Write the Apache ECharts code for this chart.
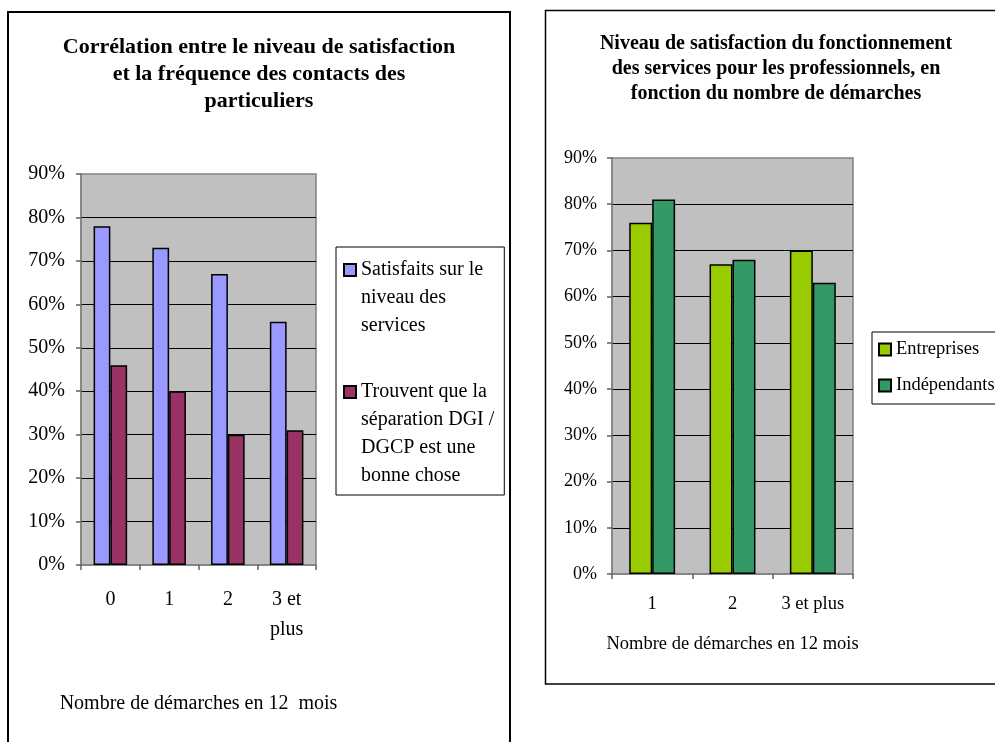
<!DOCTYPE html>
<html>
<head>
<meta charset="utf-8">
<script src="https://cdn.jsdelivr.net/npm/echarts@6/dist/echarts.min.js"></script>
<style>
  html, body { margin: 0; padding: 0; background: #fff; }
  #chart { width: 995px; height: 742px; }
</style>
</head>
<body>
<div id="chart"></div>
<script>
// Particuliers: satisfaction by number of contacts in 12 months
const contactCategories = ['0', '1', '2', '3 et\nplus'];
const satisfaitsServices = [78, 73, 67, 56];
const separationBonneChose = [46, 40, 30, 31];

// Professionnels: satisfaction by number of procedures
const demarchesCategories = ['1', '2', '3 et plus'];
const entreprises = [76, 67, 70];
const independants = [81, 68, 63];

// Percent axis range shared by both charts
const pctMin = 0;
const pctMax = 90;
const pctStep = 10;

const serif = 'Liberation Serif, Times New Roman, serif';
const nameSatisfaits = 'Satisfaits sur le\nniveau des\nservices';
const nameSeparation = 'Trouvent que la\nséparation DGI /\nDGCP est une\nbonne chose';
const LEFT_LH = 28;
const legendRich = { t: { fontFamily: serif, fontSize: 20, lineHeight: LEFT_LH, color: '#000' } };

// Each wrapped legend label keeps its swatch beside the first line:
// a negative bottom padding shrinks the block that gets centred on the icon.
function wrappedLegendItem(name) {
  const lines = name.split('\n').length;
  return {
    name,
    textStyle: { rich: legendRich, padding: [0, 0, -(lines - 1) * LEFT_LH, 0] }
  };
}

function valueAxis(gridIndex, fontSize, margin) {
  return {
    type: 'value', gridIndex, min: pctMin, max: pctMax, interval: pctStep,
    axisLine: { show: true, lineStyle: { color: '#808080', width: 1.5 } },
    axisTick: { show: true, length: 5, lineStyle: { color: '#606060', width: 1.5 } },
    axisLabel: { formatter: '{value}%', color: '#000', fontFamily: serif, fontSize, margin },
    splitLine: { show: true, showMinLine: false, showMaxLine: false, lineStyle: { color: '#000', width: 1 } }
  };
}

function categoryAxis(gridIndex, data, fontSize, lineHeight, margin, name, nameSize, nameGap) {
  return {
    type: 'category', gridIndex, data,
    axisLine: { show: true, lineStyle: { color: '#808080', width: 1.5 } },
    axisTick: { show: true, length: 5, alignWithLabel: false, lineStyle: { color: '#606060', width: 1.5 } },
    axisLabel: { color: '#000', fontFamily: serif, fontSize, lineHeight, margin, interval: 0 },
    name, nameLocation: 'middle', nameGap,
    nameTextStyle: { color: '#000', fontFamily: serif, fontSize: nameSize, lineHeight: 24 }
  };
}

function barSeries(name, data, color, axisIndex) {
  return {
    type: 'bar', name, data, xAxisIndex: axisIndex, yAxisIndex: axisIndex,
    barGap: '0%', barCategoryGap: '42.86%',
    itemStyle: { color, borderColor: '#000', borderWidth: 1.5 },
    emphasis: { disabled: true }
  };
}

const chart = echarts.init(document.getElementById('chart'), null, { renderer: 'canvas' });

chart.setOption({
  animation: false,
  backgroundColor: '#fff',
  title: [
    {
      text: 'Corrélation entre le niveau de satisfaction\net la fréquence des contacts des\nparticuliers',
      left: 259, top: 34, padding: 0, textAlign: 'center',
      textStyle: { fontFamily: serif, fontWeight: 'bold', fontSize: 22, lineHeight: 27, color: '#000' }
    },
    {
      text: 'Niveau de satisfaction du fonctionnement\ndes services pour les professionnels, en\nfonction du nombre de démarches',
      left: 776, top: 31, padding: 0, textAlign: 'center',
      textStyle: { fontFamily: serif, fontWeight: 'bold', fontSize: 20, lineHeight: 25, color: '#000' }
    }
  ],
  legend: [
    {
      orient: 'vertical', left: 336, top: 247,
      padding: [9, 10, 9, 7], itemGap: 42,
      itemWidth: 12, itemHeight: 12, icon: 'rect',
      borderColor: '#000', borderWidth: 1,
      selectedMode: false,
      formatter: (name) => name.split('\n').map((s) => '{t|' + s + '}').join('\n'),
      textStyle: { fontFamily: serif, fontSize: 20, lineHeight: LEFT_LH, color: '#000', rich: legendRich },
      data: [wrappedLegendItem(nameSatisfaits), wrappedLegendItem(nameSeparation)]
    },
    {
      orient: 'vertical', left: 872, top: 332,
      padding: [8, 10, 9, 6], itemGap: 17,
      itemWidth: 12, itemHeight: 12, icon: 'rect',
      borderColor: '#000', borderWidth: 1,
      selectedMode: false,
      textStyle: { fontFamily: serif, fontSize: 18.5, color: '#000' },
      data: ['Entreprises', 'Indépendants']
    }
  ],
  grid: [
    { left: 81, top: 174, width: 235, height: 391, show: true, backgroundColor: '#c0c0c0',
      borderColor: '#808080', borderWidth: 1.5, outerBoundsMode: 'none', containLabel: false },
    { left: 612, top: 158, width: 241, height: 416, show: true, backgroundColor: '#c0c0c0',
      borderColor: '#808080', borderWidth: 1.5, outerBoundsMode: 'none', containLabel: false }
  ],
  xAxis: [
    categoryAxis(0, contactCategories, 20, 30, 20, 'Nombre de démarches en 12  mois', 20, 127),
    categoryAxis(1, demarchesCategories, 18.5, 22, 19, 'Nombre de démarches en 12 mois', 18.5, 58)
  ],
  yAxis: [
    valueAxis(0, 20, 16),
    valueAxis(1, 18, 15)
  ],
  series: [
    barSeries(nameSatisfaits, satisfaitsServices, '#9999ff', 0),
    barSeries(nameSeparation, separationBonneChose, '#993366', 0),
    barSeries('Entreprises', entreprises, '#99cc00', 1),
    barSeries('Indépendants', independants, '#339966', 1)
  ],
  graphic: [
    { type: 'rect', silent: true, z: 100,
      shape: { x: 8, y: 12, width: 502, height: 760 },
      style: { fill: 'none', stroke: '#000', lineWidth: 2 } },
    { type: 'rect', silent: true, z: 100,
      shape: { x: 545.5, y: 10.5, width: 470, height: 673.5 },
      style: { fill: 'none', stroke: '#000', lineWidth: 1.5 } }
  ]
});
</script>
</body>
</html>
